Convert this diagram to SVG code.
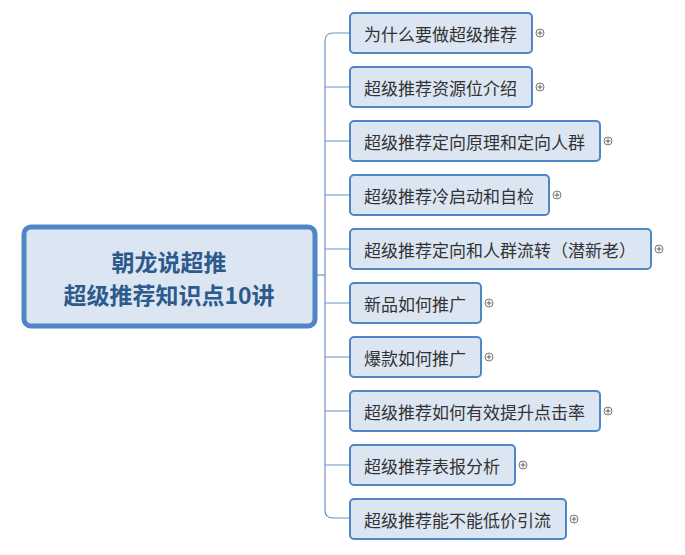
<svg xmlns="http://www.w3.org/2000/svg" width="685" height="555" viewBox="0 0 685 555">
<style>
.n rect{fill:#dce6f3;stroke:#4f86c6;stroke-width:2}
.n text{font-family:"Noto Sans CJK SC","Liberation Sans",sans-serif;font-size:17px;fill:#333;dominant-baseline:central}
.c{fill:none;stroke:#6b93c4;stroke-width:1.2}
.p circle{fill:#fff;stroke:#555;stroke-width:0.8}
.p path{stroke:#555;stroke-width:0.9}
</style>
<rect width="685" height="555" fill="#fff"/>
<g id="connectors" class="c">
<path d="M316 275H325"/>
<path d="M350 33H333Q325 33 325 41V510Q325 518 333 518H350"/>
<path d="M325 87H350M325 141H350M325 195H350M325 249H350M325 303H350M325 357H350M325 411H350M325 465H350"/>
</g>
<g id="root">
<rect x="24" y="227" width="291" height="99" rx="7" fill="#dce6f3" stroke="#4f86c6" stroke-width="5"/>
<text x="169" y="261" text-anchor="middle" font-family="Noto Sans CJK SC,sans-serif" font-size="23" font-weight="bold" fill="#2d5a8c" dominant-baseline="central">朝龙说超推</text>
<text x="169" y="294" text-anchor="middle" font-family="Noto Sans CJK SC,sans-serif" font-size="23" font-weight="bold" fill="#2d5a8c" dominant-baseline="central">超级推荐知识点10讲</text>
</g>
<g id="n1" class="n"><rect x="350" y="13" width="182" height="40" rx="4"/><text x="364" y="33">为什么要做超级推荐</text></g>
<g id="n2" class="n"><rect x="350" y="67" width="182" height="40" rx="4"/><text x="364" y="87">超级推荐资源位介绍</text></g>
<g id="n3" class="n"><rect x="350" y="121" width="250" height="40" rx="4"/><text x="364" y="141">超级推荐定向原理和定向人群</text></g>
<g id="n4" class="n"><rect x="350" y="175" width="199" height="40" rx="4"/><text x="364" y="195">超级推荐冷启动和自检</text></g>
<g id="n5" class="n"><rect x="350" y="229" width="301" height="40" rx="4"/><text x="364" y="249">超级推荐定向和人群流转（潜新老）</text></g>
<g id="n6" class="n"><rect x="350" y="283" width="131" height="40" rx="4"/><text x="364" y="303">新品如何推广</text></g>
<g id="n7" class="n"><rect x="350" y="337" width="131" height="40" rx="4"/><text x="364" y="357">爆款如何推广</text></g>
<g id="n8" class="n"><rect x="350" y="391" width="250" height="40" rx="4"/><text x="364" y="411">超级推荐如何有效提升点击率</text></g>
<g id="n9" class="n"><rect x="350" y="445" width="165" height="40" rx="4"/><text x="364" y="465">超级推荐表报分析</text></g>
<g id="n10" class="n"><rect x="350" y="499" width="216" height="40" rx="4"/><text x="364" y="519">超级推荐能不能低价引流</text></g>
<g class="p">
<g transform="translate(540,33)"><circle r="4"/><path d="M-2.5 0H2.5M0 -2.5V2.5"/></g>
<g transform="translate(540,87)"><circle r="4"/><path d="M-2.5 0H2.5M0 -2.5V2.5"/></g>
<g transform="translate(608,141)"><circle r="4"/><path d="M-2.5 0H2.5M0 -2.5V2.5"/></g>
<g transform="translate(557,195)"><circle r="4"/><path d="M-2.5 0H2.5M0 -2.5V2.5"/></g>
<g transform="translate(659,249)"><circle r="4"/><path d="M-2.5 0H2.5M0 -2.5V2.5"/></g>
<g transform="translate(489,303)"><circle r="4"/><path d="M-2.5 0H2.5M0 -2.5V2.5"/></g>
<g transform="translate(489,357)"><circle r="4"/><path d="M-2.5 0H2.5M0 -2.5V2.5"/></g>
<g transform="translate(608,411)"><circle r="4"/><path d="M-2.5 0H2.5M0 -2.5V2.5"/></g>
<g transform="translate(523,465)"><circle r="4"/><path d="M-2.5 0H2.5M0 -2.5V2.5"/></g>
<g transform="translate(574,519)"><circle r="4"/><path d="M-2.5 0H2.5M0 -2.5V2.5"/></g>
</g>
</svg>
